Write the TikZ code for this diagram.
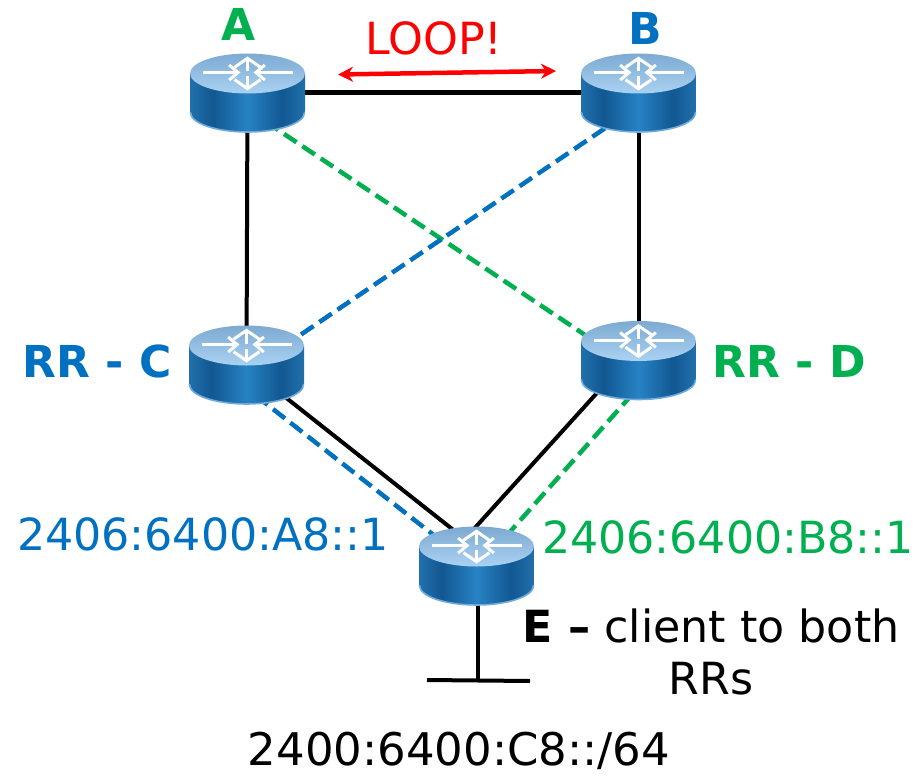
\documentclass[tikz,border=0pt]{standalone}
\usepackage{fontspec}
\setmainfont{DejaVu Sans}
\usetikzlibrary{arrows.meta,calc}
\definecolor{gr}{RGB}{0,176,80}
\definecolor{bl}{RGB}{0,112,192}
\definecolor{rd}{RGB}{255,0,0}
\definecolor{bodyedge}{RGB}{33,112,172}
\definecolor{bodydark}{RGB}{18,88,146}
\definecolor{bodymid}{RGB}{40,130,196}
\definecolor{toptop}{RGB}{125,170,210}
\definecolor{topbot}{RGB}{170,210,242}
\definecolor{rim}{RGB}{110,170,220}
\pgfdeclarehorizontalshading{routerbody}{100bp}{
 color(0bp)=(bodyedge);
 color(25bp)=(bodyedge);
 color(35bp)=(bodydark);
 color(50bp)=(bodymid);
 color(65bp)=(bodydark);
 color(75bp)=(bodyedge);
 color(100bp)=(bodyedge)}
\tikzset{
 routerbox/.style={minimum width=115pt,minimum height=79pt,inner sep=0pt,outer sep=0pt},
 link/.style={line width=4pt,black},
 dlink/.style={line width=4.5pt,dash pattern=on 15pt off 7pt},
 wharrow/.style={white,line width=3pt,-{Straight Barb[length=9pt,width=#1,line width=3pt]}},
 lab/.style={inner sep=0pt,font=\fontsize{44.3}{44.3}\selectfont},
 labb/.style={inner sep=0pt,font=\fontsize{44}{44}\selectfont\bfseries},
}
\newcommand{\routerdraw}[1]{%
 \begin{scope}[shift={(#1.center)}]
  \shade[shading=routerbody] (-57.5,-19) -- (-57.5,19) arc[x radius=57.5,y radius=20.5,start angle=180,end angle=0] -- (57.5,-19) -- cycle;
  \draw[rim,line width=1.6pt,line cap=round] (-57,20) arc[x radius=57,y radius=19.5,start angle=180,end angle=0];
  \shade[top color=toptop,bottom color=topbot] (0,-19) ellipse[x radius=57.5,y radius=20];
  \draw[wharrow=15pt] (-45,-20) -- (-7,-20);
  \draw[wharrow=15pt] (45,-20) -- (6,-20);
  \draw[wharrow=26pt] (0,-21) -- (0,-36);
  \draw[wharrow=26pt] (0,-16) -- (0,-2);
 \end{scope}}
\begin{document}
\begin{tikzpicture}[x=1pt,y=-1pt]
\useasboundingbox (0,0) rectangle (924,776);
\node[routerbox] (A) at (247.5,92.5) {};
\node[routerbox] (B) at (638.5,92.5) {};
\node[routerbox] (C) at (246.5,364.5) {};
\node[routerbox] (D) at (638.5,360) {};
\node[routerbox] (E) at (476.5,565.5) {};
\coordinate (stub) at (478,680);
\coordinate (barl) at (427,680);
\coordinate (barr) at (530,681);
\coordinate (loopl) at (338,74.5);
\coordinate (loopr) at (556,71);
% solid links
\draw[link] (A.center) -- (B.center);
\draw[link] (A.center) -- (C.center);
\draw[link] (B.center) -- (D.center);
\draw[link] ([yshift=-2pt]C.center) -- ([shift={(-15.5,-29.5)}]E.center);
\draw[link] ([yshift=13pt]D.center) -- ([shift={(-4,-35)}]E.center);
\draw[link] ([xshift=1.5pt]E.center) -- (stub);
\draw[link] (barl) -- (barr);
% dashed links
\draw[dlink,gr] ([yshift=-17pt]A.center) -- ([yshift=-10.7pt]D.center);
\draw[dlink,bl] ([yshift=-7pt]C.center) -- ([yshift=-13pt]B.center);
\draw[dlink,bl] ([shift={(-8,17.5)}]C.center) -- ([shift={(-20,-12.5)}]E.center);
\draw[dlink,gr] ([shift={(-6,34)}]D.center) -- ([shift={(20,-18.5)}]E.center);
% routers
\routerdraw{A}\routerdraw{B}\routerdraw{C}\routerdraw{D}\routerdraw{E}
% loop
\draw[rd,line width=4.5pt,{Stealth[length=15pt,width=15pt]}-{Stealth[length=15pt,width=15pt]}] (loopl) -- (loopr);
\node[labb,text=gr] (tA) at (239,24) {A};
\node[labb,text=bl] (tB) at (645,28) {B};
\node[lab,text=rd] (tL) at (434,38) {LOOP!};
\node[labb,text=bl] (tC) at (97,361) {RR - C};
\node[labb,text=gr] (tD) at (789,361) {RR - D};
\node[lab,text=bl] (tC2) at (203,534) {2406:6400:A8::1};
\node[lab,text=gr] (tD2) at (728,537) {2406:6400:B8::1};
\node[lab,align=center] (tE) at (711,652) {\textbf{E –} client to both\\[7pt]RRs};
\node[lab,font=\fontsize{45}{45}\selectfont] (tN) at (459,751) {2400:6400:C8::/64};
\end{tikzpicture}
\end{document}
